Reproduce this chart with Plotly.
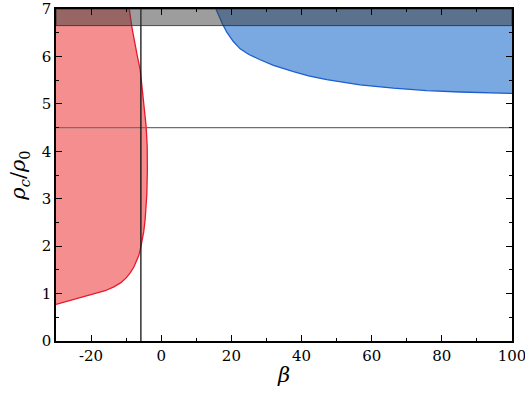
import plotly.graph_objects as go

# Red region right boundary (beta, rho_c/rho_0)
red_x = [-30.0, -27.0, -24.0, -20.3, -16.0, -13.5, -11.5, -10.0, -8.9, -7.8, -7.0, -6.4, -5.9, -5.5, -5.0,
         -4.6, -4.3, -4.1, -3.95, -4.0, -4.3, -4.8, -5.3, -6.0, -6.8, -7.5, -8.4, -9.1]
red_y = [0.77, 0.83, 0.89, 0.97, 1.06, 1.14, 1.23, 1.33, 1.43, 1.56, 1.68, 1.80, 1.95, 2.08, 2.30,
         2.55, 2.80, 3.1, 3.6, 4.1, 4.52, 4.9, 5.23, 5.72, 6.0, 6.28, 6.63, 7.0]

# Blue region lower boundary
blue_x = [15.6, 16.5, 17.5, 18.7, 20.5, 22.5, 25.0, 28.2, 32.0, 37.7, 42.0, 47.2,
          52.0, 56.7, 66.2, 75.7, 85.2, 100.0]
blue_y = [7.0, 6.84, 6.68, 6.51, 6.32, 6.16, 6.04, 5.93, 5.81, 5.68, 5.59, 5.51,
          5.45, 5.40, 5.33, 5.28, 5.25, 5.22]

x_range = [-30, 100]
y_range = [0, 7]
band_y = [6.65, 7.0]       # grey band
hline_y = 4.5               # horizontal reference line
vline_x = -5.8              # vertical reference line
vline_y = [0.0, 7.0]

x_ticks = [-20, 0, 20, 40, 60, 80, 100]
x_ticktext = ["-20", "0", "20", "40", "60", "80", "100"]
y_ticks = [0, 1, 2, 3, 4, 5, 6, 7]

fig = go.Figure()

# red filled region
fig.add_trace(go.Scatter(
    x=red_x + [x_range[0], x_range[0]],
    y=red_y + [y_range[1], red_y[0]],
    fill="toself", fillcolor="#f58f8f", line=dict(width=0), mode="lines",
    hoverinfo="skip", showlegend=False))
fig.add_trace(go.Scatter(x=red_x, y=red_y, mode="lines",
                         line=dict(color="#e8182c", width=1.3),
                         showlegend=False))

# blue filled region
fig.add_trace(go.Scatter(
    x=blue_x + [x_range[1], blue_x[0]],
    y=blue_y + [y_range[1], blue_y[0]],
    fill="toself", fillcolor="#7aa8e0", line=dict(width=0), mode="lines",
    hoverinfo="skip", showlegend=False))
fig.add_trace(go.Scatter(x=blue_x, y=blue_y, mode="lines",
                         line=dict(color="#1a5fd0", width=1.3),
                         showlegend=False))

# horizontal line
fig.add_trace(go.Scatter(x=x_range, y=[hline_y, hline_y], mode="lines",
                         line=dict(color="#707070", width=1.2), showlegend=False))
# vertical line
fig.add_trace(go.Scatter(x=[vline_x, vline_x], y=vline_y, mode="lines",
                         line=dict(color="#111111", width=1.3), showlegend=False))

# grey band on top
fig.add_trace(go.Scatter(
    x=[x_range[0], x_range[1], x_range[1], x_range[0], x_range[0]],
    y=[band_y[0], band_y[0], band_y[1], band_y[1], band_y[0]],
    fill="toself", fillcolor="rgba(60,60,60,0.5)",
    line=dict(color="rgba(40,40,40,0.8)", width=1), mode="lines",
    hoverinfo="skip", showlegend=False))

font_family = "DejaVu Serif"
axis_common = dict(showline=True, linecolor="black", linewidth=1.5, mirror="ticks",
                   ticks="inside", ticklen=6, tickwidth=1.3, tickcolor="black",
                   showgrid=False, zeroline=False, automargin=False,
                   ticklabeloverflow="allow",
                   tickfont=dict(family=font_family, size=15, color="black"))

fig.update_layout(
    width=525, height=394,
    font=dict(family=font_family, color="black"),
    margin=dict(l=56, r=13, t=9, b=53, autoexpand=False),
    plot_bgcolor="white", paper_bgcolor="white",
    xaxis=dict(range=[x_range[0], x_range[1] + 0.001], tickvals=x_ticks, ticktext=x_ticktext,
               minor=dict(dtick=10, ticklen=3, ticks="inside", tickcolor="black", tickwidth=1.2),
               title=dict(text="<i>β</i>", font=dict(family=font_family, size=21, color="black"),
                          standoff=4),
               **axis_common),
    yaxis=dict(range=[y_range[0], y_range[1] + 0.0001], tickvals=y_ticks,
               minor=dict(dtick=0.5, ticklen=3, ticks="inside", tickcolor="black", tickwidth=1.2),
               title=dict(text="<i>ρ<sub>c</sub></i>/<i>ρ</i><sub>0</sub>",
                          font=dict(family=font_family, size=21, color="black"), standoff=10),
               **axis_common),
)

fig.write_html("out.html")
